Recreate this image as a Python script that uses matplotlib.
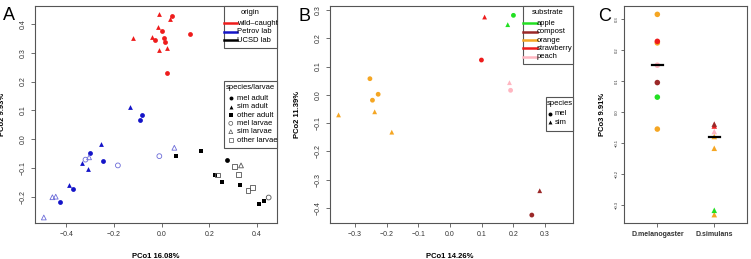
import numpy as np
import matplotlib
matplotlib.use("Agg")
import matplotlib.pyplot as plt
from matplotlib.patches import Rectangle
from matplotlib.lines import Line2D

plt.rcParams['font.family'] = ['Liberation Sans', 'DejaVu Sans']

# ---------------- Panel A data (PCo1, PCo2) ----------------
wild_mel_x = [0.044, 0.003, -0.028, 0.011, 0.014, 0.119, 0.022]
wild_mel_y = [0.427, 0.374, 0.345, 0.349, 0.336, 0.363, 0.231]
wild_sim_x = [-0.010, 0.035, -0.014, -0.122, -0.042, -0.010, 0.021]
wild_sim_y = [0.434, 0.415, 0.387, 0.352, 0.355, 0.308, 0.316]

petrov_mel_x = [-0.084, -0.091, -0.302, -0.246, -0.371, -0.427]
petrov_mel_y = [0.084, 0.067, -0.047, -0.074, -0.172, -0.215]
petrov_sim_x = [-0.132, -0.257, -0.335, -0.309, -0.389]
petrov_sim_y = [0.113, -0.017, -0.081, -0.102, -0.157]
petrov_mel_larvae_x = [-0.184, -0.010, -0.320]
petrov_mel_larvae_y = [-0.090, -0.058, -0.070]
petrov_sim_larvae_x = [0.053, -0.305, -0.459, -0.445, -0.495]
petrov_sim_larvae_y = [-0.029, -0.062, -0.200, -0.198, -0.270]

ucsd_mel_x = [0.275]
ucsd_mel_y = [-0.070]
ucsd_other_x = [0.060, 0.164, 0.222, 0.255, 0.328, 0.407, 0.431]
ucsd_other_y = [-0.059, -0.040, -0.122, -0.148, -0.159, -0.224, -0.212]
ucsd_sim_larvae_x = [0.333]
ucsd_sim_larvae_y = [-0.090]
ucsd_other_larvae_x = [0.234, 0.305, 0.324, 0.362, 0.382]
ucsd_other_larvae_y = [-0.123, -0.095, -0.120, -0.177, -0.165]
ucsd_mel_larvae_x = [0.449]
ucsd_mel_larvae_y = [-0.201]

origin_labels = ['wild\u2013caught', 'Petrov lab', 'UCSD lab']
species_labels = ['mel adult', 'sim adult', 'other adult', 'mel larvae', 'sim larvae', 'other larvae']

# ---------------- Panel B / C data ----------------
substrates = ['apple', 'compost', 'orange', 'strawberry', 'peach']
mel_substrate = ['orange', 'orange', 'orange', 'apple', 'strawberry', 'peach', 'compost']
mel_pco1 = [-0.253, -0.245, -0.227, 0.200, 0.099, 0.191, 0.258]
mel_pco2 = [0.057, -0.019, 0.002, 0.281, 0.123, 0.016, -0.425]
mel_pco3 = [0.314, -0.056, 0.222, 0.047, 0.227, 0.150, 0.094]
sim_substrate = ['orange', 'orange', 'orange', 'strawberry', 'apple', 'peach', 'compost']
sim_pco1 = [-0.352, -0.238, -0.184, 0.109, 0.182, 0.1875, 0.283]
sim_pco2 = [-0.071, -0.060, -0.132, 0.275, 0.248, 0.043, -0.339]
sim_pco3 = [-0.080, -0.118, -0.332, -0.046, -0.318, -0.064, -0.040]
species_names = ['D.melanogaster', 'D.simulans']

RED = '#ee1c1c'
BLUE = '#1414c8'
BLUE_L = '#6b6bd8'
GREY_L = '#555555'
sub_colors = {'apple': '#22e022', 'compost': '#9b2828', 'orange': '#f5a623',
              'strawberry': '#ee1c1c', 'peach': '#ffb6c1'}
SPINE = '#555555'

fig = plt.figure(figsize=(7.51, 2.59), dpi=100)
H = 259.0
W = 751.0
bottom = (H - 222.7) / H
height = (222.7 - 6) / H
axA = fig.add_axes([35 / W, bottom, 242 / W, height])
axB = fig.add_axes([330 / W, bottom, 243 / W, height])
axC = fig.add_axes([624.3 / W, bottom, 123 / W, height])


def style(ax, fs=5):
    for s in ax.spines.values():
        s.set_color(SPINE)
        s.set_linewidth(0.8)
    ax.tick_params(direction='out', length=3, width=0.6, color=SPINE,
                   labelsize=fs, labelcolor='#333333', pad=3)
    for lab in ax.get_yticklabels():
        lab.set_rotation(90)
        lab.set_va('center')


ms = 12
# ---------------- Panel A ----------------
axA.scatter(wild_mel_x, wild_mel_y, s=ms, marker='o', color=RED, linewidths=0)
axA.scatter(wild_sim_x, wild_sim_y, s=ms, marker='^', color=RED, linewidths=0)
axA.scatter(petrov_mel_x, petrov_mel_y, s=ms, marker='o', color=BLUE, linewidths=0)
axA.scatter(petrov_sim_x, petrov_sim_y, s=ms, marker='^', color=BLUE, linewidths=0)
axA.scatter(petrov_mel_larvae_x, petrov_mel_larvae_y, s=ms, marker='o', facecolors='none', edgecolors=BLUE_L, linewidths=0.6)
axA.scatter(petrov_sim_larvae_x, petrov_sim_larvae_y, s=ms, marker='^', facecolors='none', edgecolors=BLUE_L, linewidths=0.6)
axA.scatter(ucsd_mel_x, ucsd_mel_y, s=ms, marker='o', color='black', linewidths=0)
axA.scatter(ucsd_other_x, ucsd_other_y, s=ms, marker='s', color='black', linewidths=0)
axA.scatter(ucsd_sim_larvae_x, ucsd_sim_larvae_y, s=ms, marker='^', facecolors='none', edgecolors=GREY_L, linewidths=0.6)
axA.scatter(ucsd_other_larvae_x, ucsd_other_larvae_y, s=ms, marker='s', facecolors='none', edgecolors=GREY_L, linewidths=0.6)
axA.scatter(ucsd_mel_larvae_x, ucsd_mel_larvae_y, s=ms, marker='o', facecolors='none', edgecolors=GREY_L, linewidths=0.6)
axA.set_xlim(-0.532, 0.484)
axA.set_ylim(-0.288, 0.461)
axA.set_xticks([-0.4, -0.2, 0.0, 0.2, 0.4])
axA.set_yticks([-0.2, -0.1, 0.0, 0.1, 0.2, 0.3, 0.4])
axA.set_xticklabels(['\u22120.4', '\u22120.2', '0.0', '0.2', '0.4'])
axA.set_yticklabels(['\u22120.2', '\u22120.1', '0.0', '0.1', '0.2', '0.3', '0.4'])
style(axA)
axA.set_xlabel('PCo1 16.08%', fontsize=5.5, fontweight='bold')
axA.set_ylabel('PCo2 9.93%', fontsize=5.5, fontweight='bold')
axA.xaxis.set_label_coords(0.5, -0.138)
axA.yaxis.set_label_coords(-0.12, 0.5)


def legend_box(ax, x0, y0, x1, y1, title, ty):
    ax.add_patch(Rectangle((x0, y0), x1 - x0, y1 - y0, transform=ax.transAxes,
                           facecolor='white', edgecolor=SPINE, linewidth=0.8, zorder=5, clip_on=False))
    ax.text((x0 + x1) / 2, ty, title, transform=ax.transAxes, ha='center', va='center',
            fontsize=5.5, zorder=6)


# origin legend
legend_box(axA, 0.781, 0.805, 1.0, 1.0, 'origin', 0.969)
for i, (lab, c) in enumerate(zip(origin_labels, [RED, BLUE, 'black'])):
    yy = 0.920 - 0.0385 * i
    axA.add_line(Line2D([0.781, 0.835], [yy, yy], transform=axA.transAxes, color=c, lw=1.8, zorder=6))
    axA.text(0.835, yy, lab, transform=axA.transAxes, fontsize=5.5, va='center', ha='left', zorder=7)

# species/larvae legend
legend_box(axA, 0.781, 0.346, 1.0, 0.654, 'species/larvae', 0.625)
leg_markers = [('o', True), ('^', True), ('s', True), ('o', False), ('^', False), ('s', False)]
for i, (lab, (m, filled)) in enumerate(zip(species_labels, leg_markers)):
    yy = 0.574 - 0.0385 * i
    if filled:
        axA.scatter([0.809], [yy], s=8, marker=m, color='black', transform=axA.transAxes, zorder=7, clip_on=False, linewidths=0)
    else:
        axA.scatter([0.809], [yy], s=8, marker=m, facecolors='none', edgecolors=GREY_L, linewidths=0.5,
                    transform=axA.transAxes, zorder=7, clip_on=False)
    axA.text(0.836, yy, lab, transform=axA.transAxes, fontsize=5.5, va='center', ha='left', zorder=7)

# ---------------- Panel B ----------------
axB.scatter(mel_pco1, mel_pco2, s=ms, marker='o', c=[sub_colors[s] for s in mel_substrate], linewidths=0)
axB.scatter(sim_pco1, sim_pco2, s=ms, marker='^', c=[sub_colors[s] for s in sim_substrate], linewidths=0)
axB.set_xlim(-0.379, 0.388)
axB.set_ylim(-0.452, 0.314)
axB.set_xticks([-0.3, -0.2, -0.1, 0.0, 0.1, 0.2, 0.3])
axB.set_xticklabels(['\u22120.3', '\u22120.2', '\u22120.1', '0.0', '0.1', '0.2', '0.3'])
axB.set_yticks([-0.4, -0.3, -0.2, -0.1, 0.0, 0.1, 0.2, 0.3])
axB.set_yticklabels(['\u22120.4', '\u22120.3', '\u22120.2', '\u22120.1', '0.0', '0.1', '0.2', '0.3'])
style(axB)
axB.set_xlabel('PCo1 14.26%', fontsize=5.5, fontweight='bold')
axB.set_ylabel('PCo2 11.39%', fontsize=5.5, fontweight='bold')
axB.xaxis.set_label_coords(0.494, -0.138)
axB.yaxis.set_label_coords(-0.119, 0.5)

legend_box(axB, 0.795, 0.731, 1.0, 1.0, 'substrate', 0.971)
for i, sub in enumerate(substrates):
    yy = 0.920 - 0.0385 * i
    axB.add_line(Line2D([0.795, 0.850], [yy, yy], transform=axB.transAxes, color=sub_colors[sub], lw=1.8, zorder=6))
    axB.text(0.850, yy, sub, transform=axB.transAxes, fontsize=5.5, va='center', ha='left', zorder=7)

legend_box(axB, 0.888, 0.423, 1.0, 0.579, 'species', 0.548)
for i, (lab, m) in enumerate(zip(['mel', 'sim'], ['o', '^'])):
    yy = 0.502 - 0.039 * i
    axB.scatter([0.905], [yy], s=8, marker=m, color='black', transform=axB.transAxes, zorder=7, clip_on=False, linewidths=0)
    axB.text(0.925, yy, lab, transform=axB.transAxes, fontsize=5.5, va='center', ha='left', zorder=7)

# ---------------- Panel C ----------------
axC.scatter([1] * len(mel_pco3), mel_pco3, s=16, marker='o', c=[sub_colors[s] for s in mel_substrate], linewidths=0, zorder=3)
axC.scatter([2] * len(sim_pco3), sim_pco3, s=16, marker='^', c=[sub_colors[s] for s in sim_substrate], linewidths=0, zorder=3)
for pos, vals in zip([1, 2], [mel_pco3, sim_pco3]):
    med = np.median(vals)
    axC.plot([pos - 0.1, pos + 0.1], [med, med], color='black', lw=1.6, zorder=4)
axC.set_xlim(0.42, 2.58)
axC.set_ylim(-0.358, 0.341)
axC.set_xticks([1, 2])
axC.set_xticklabels(species_names, fontweight='bold')
axC.set_yticks([-0.3, -0.2, -0.1, 0.0, 0.1, 0.2, 0.3])
axC.set_yticklabels(['\u22120.3', '\u22120.2', '\u22120.1', '0.0', '0.1', '0.2', '0.3'])
style(axC)
axC.tick_params(axis='y', labelsize=3, length=2, pad=2)
axC.tick_params(axis='x', labelsize=5, pad=3)
for lab in axC.get_xticklabels():
    lab.set_fontweight('bold')
axC.set_ylabel('PCo3 9.91%', fontsize=5.5, fontweight='bold')
axC.yaxis.set_label_coords(-0.149, 0.5)

# panel letters
fig.text(9.3 / W, 1 - 16 / H, 'A', fontsize=13, ha='center', va='center')
fig.text(305 / W, 1 - 16.7 / H, 'B', fontsize=13, ha='center', va='center')
fig.text(605 / W, 1 - 16.7 / H, 'C', fontsize=13, ha='center', va='center')

fig.savefig('out.png', dpi=100)
